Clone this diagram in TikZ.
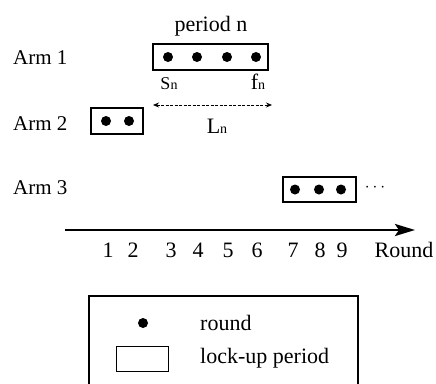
\documentclass[tikz,border=0pt]{standalone}
\usepackage{fontspec}
\setmainfont{Liberation Serif}
\usetikzlibrary{arrows.meta}
\begin{document}
\begin{tikzpicture}[x=1pt,y=-1pt,
  lbl/.style={inner sep=0pt,font=\fontsize{22}{24}\selectfont},
  armlbl/.style={inner sep=0pt,font=\fontsize{21}{23}\selectfont},
  rnd/.style={circle,fill=black,inner sep=0pt,minimum size=10pt},
  lockbox/.style={draw,line width=1.3pt,inner sep=0pt}]
\clip (0,0) rectangle (436,383);
\useasboundingbox (0,0) rectangle (436,383);

% arm labels
\node[armlbl,anchor=base west] (arm1) at (13,64) {Arm 1};
\node[armlbl,anchor=base west] (arm2) at (13,130) {Arm 2};
\node[armlbl,anchor=base west] (arm3) at (13,194) {Arm 3};

% period n on arm 1
\node[lbl,anchor=base] (period) at (211,31) {period n};
\node[lockbox,minimum width=115pt,minimum height=26pt] (box1) at (210.5,57) {};
\foreach \x [count=\i] in {168,197,227,256}
  \node[rnd] (d1\i) at (\x,57) {};

\node[lbl,anchor=base] (sn) at (169,89) {{\fontsize{18}{19}\selectfont S}{\fontsize{14}{15}\selectfont n}};
\node[lbl,anchor=base] (fn) at (258,89) {f{\fontsize{14}{15}\selectfont n}};
\coordinate (lnL) at (153,105);
\coordinate (lnR) at (272,105);
\draw[line width=0.8pt,dash pattern=on 3pt off 1.5pt,
  {Stealth[length=6pt,width=5pt]}-{Stealth[length=6pt,width=5pt]}] (lnL) -- (lnR);
\node[lbl,anchor=base] (ln) at (217,133) {L{\fontsize{14}{15}\selectfont n}};

% arm 2
\node[lockbox,minimum width=52pt,minimum height=26pt] (box2) at (117,121) {};
\foreach \x [count=\i] in {106,129}
  \node[rnd] (d2\i) at (\x,121) {};

% arm 3
\node[lockbox,minimum width=73pt,minimum height=25pt] (box3) at (319.5,189.5) {};
\foreach \x [count=\i] in {295,319,341}
  \node[rnd] (d3\i) at (\x,189.5) {};
\node[inner sep=0pt,font=\fontsize{19}{20}\selectfont] (more) at (375,188) {$\cdots$};

% time axis
\coordinate (ax0) at (65,230);
\coordinate (ax1) at (415,230);
\draw[line width=2.8pt,-{Stealth[length=20pt,width=12pt,inset=4pt]}] (ax0) -- (ax1);
\foreach \x [count=\i] in {108,133,171,198,228,257,293,320,342}
  \node[lbl,anchor=base] (t\i) at (\x,257) {\i};
\node[lbl,anchor=base] (round) at (404,257) {Round};

% legend
\coordinate (legNW) at (89,296);
\coordinate (legSE) at (358,420);
\draw[line width=1.8pt] (legNW) rectangle (legSE);
\node[rnd] (legdot) at (143,323) {};
\node[lbl,anchor=west] (legdottxt) at (200,323) {round};
\node[lockbox,line width=0.8pt,minimum width=52pt,minimum height=25pt] (legbox) at (142,358.5) {};
\node[lbl,anchor=west] (legboxtxt) at (200,358) {lock-up period};
\end{tikzpicture}
\end{document}
